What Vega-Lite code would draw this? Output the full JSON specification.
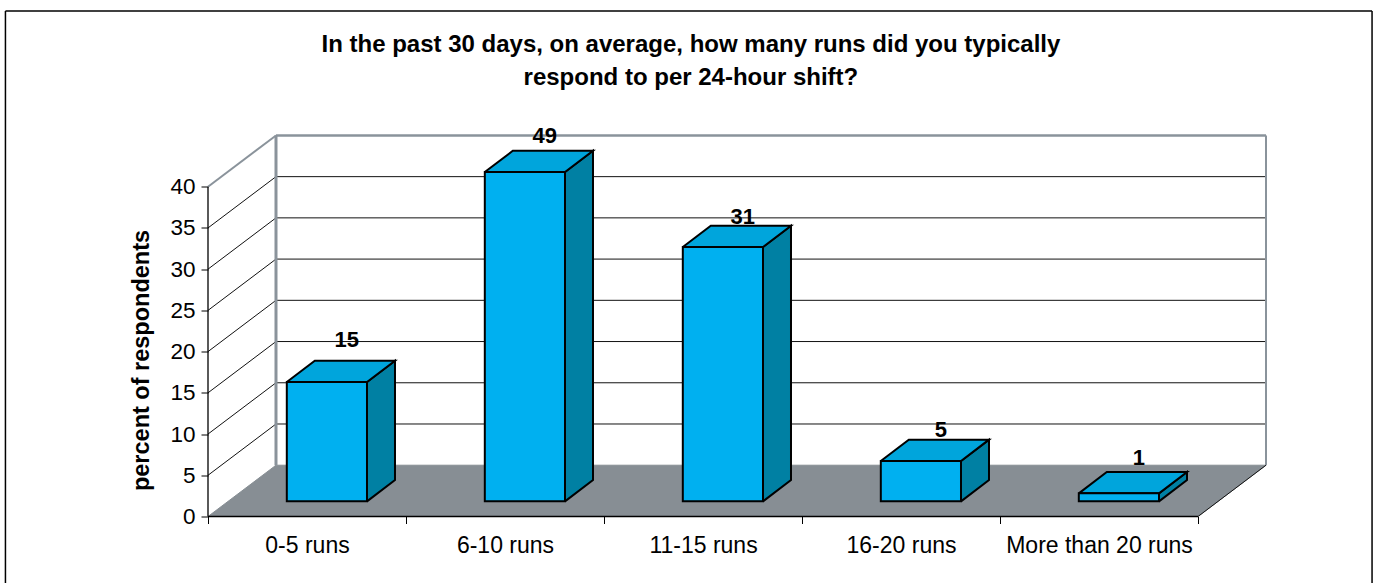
{
"$schema":"https://vega.github.io/schema/vega-lite/v6.json",
"width":1058,"height":381,
"autosize":{"type":"none"},
"padding":{"left":208,"top":135.5,"right":109,"bottom":66.5},
"background":"white",
"config":{"view":{"stroke":null},"font":"Liberation Sans"},
"resolve":{"axis":{"x":"independent","y":"independent"}},
"data":{"values":[
{"i":0,"run":"0-5 runs","percent":15,"drawn":14.47},
{"i":1,"run":"6-10 runs","percent":49,"drawn":39.94},
{"i":2,"run":"11-15 runs","percent":31,"drawn":30.85},
{"i":3,"run":"16-20 runs","percent":5,"drawn":4.9},
{"i":4,"run":"More than 20 runs","percent":1,"drawn":0.97}
]},
"transform":[
{"calculate":"datum.i+0.398","as":"x0"},
{"calculate":"datum.x0+0.405","as":"x1"},
{"calculate":"1.84+datum.drawn","as":"t"}
],
"layer":[
{"data":{"values":[{"v":5},{"v":10},{"v":15},{"v":20},{"v":25},{"v":30},{"v":35}]},
"transform":[{"calculate":"datum.v+6.22","as":"b"}],
"mark":{"type":"rule","stroke":"#111","strokeWidth":1},
"encoding":{
"x":{"datum":0.3434,"type":"quantitative","scale":{"domain":[0,5.3434],"nice":false,"zero":false},
"axis":{"values":[0,0.5,1,1.5,2,2.5,3,3.5,4,4.5,5],"grid":false,"domain":false,"title":null,"tickSize":7,"tickColor":"black","tickOpacity":{"expr":"datum.value%1==0?1:0"},"labelPadding":11,"labelFontSize":23,"labelColor":"black","labelFont":"Liberation Sans","labelLimit":400,"labelOverlap":false,"labelBound":false,"labelFlush":false,"labelExpr":"datum.value%1==0?'':['0-5 runs','6-10 runs','11-15 runs','16-20 runs','More than 20 runs'][floor(datum.value)]"}},
"x2":{"datum":5.3434},
"y":{"field":"b","type":"quantitative","scale":{"domain":[0,46.21],"nice":false,"zero":false},
"axis":{"values":[0,5,10,15,20,25,30,35,40],"grid":false,"domain":false,"tickSize":7,"tickColor":"black","labelPadding":6,"labelFontSize":22.5,"labelColor":"black","labelFont":"Liberation Sans","labelOverlap":false,"title":"percent of respondents","titleFont":"Liberation Sans","titleFontSize":23.5,"titleFontWeight":"bold","titleColor":"black","titleLimit":500,"titleX":-67,"titleY":224.5,"titleAngle":270,"titleBaseline":"middle","titleAlign":"center"}}
}},
{"data":{"values":[{"v":5},{"v":10},{"v":15},{"v":20},{"v":25},{"v":30},{"v":35}]},
"transform":[{"calculate":"datum.v+6.22","as":"b"}],
"mark":{"type":"rule","stroke":"#111","strokeWidth":1},
"encoding":{"x":{"datum":0,"type":"quantitative","axis":null},"x2":{"datum":0.3434},"y":{"field":"v","type":"quantitative","axis":null},"y2":{"field":"b"}}},
{"data":{"values":[{"c":0},{"c":1},{"c":2},{"c":3},{"c":4}]},
"transform":[{"calculate":"[0,5,5.3434,0.3434,0][datum.c]","as":"px"},{"calculate":"[0,0,6.22,6.22,0][datum.c]","as":"py"}],
"mark":{"type":"line","fill":"#878e94","stroke":"#878e94","strokeWidth":1},
"encoding":{"x":{"field":"px","type":"quantitative","axis":null},"y":{"field":"py","type":"quantitative","axis":null},"order":{"field":"c"}}},
{"data":{"values":[{}]},"mark":{"type":"rule","stroke":"#8a939b","strokeWidth":3},
"encoding":{"x":{"datum":0.3434,"type":"quantitative","axis":null},"y":{"datum":6.22,"type":"quantitative","axis":null},"y2":{"datum":46.21}}},
{"data":{"values":[{}]},"mark":{"type":"rule","stroke":"#8a939b","strokeWidth":2.5},
"encoding":{"x":{"datum":0.3434,"type":"quantitative","axis":null},"x2":{"datum":5.3434},"y":{"datum":46.21,"type":"quantitative","axis":null}}},
{"data":{"values":[{}]},"mark":{"type":"rule","stroke":"#8a939b","strokeWidth":2},
"encoding":{"x":{"datum":5.3434,"type":"quantitative","axis":null},"y":{"datum":6.22,"type":"quantitative","axis":null},"y2":{"datum":46.21}}},
{"data":{"values":[{}]},"mark":{"type":"rule","stroke":"#8a939b","strokeWidth":2},
"encoding":{"x":{"datum":0,"type":"quantitative","axis":null},"x2":{"datum":0.3434},"y":{"datum":40,"type":"quantitative","axis":null},"y2":{"datum":46.21}}},
{"data":{"values":[{}]},"mark":{"type":"rule","stroke":"#111","strokeWidth":1},
"encoding":{"x":{"datum":5,"type":"quantitative","axis":null},"x2":{"datum":5.3434},"y":{"datum":0,"type":"quantitative","axis":null},"y2":{"datum":6.22}}},
{"data":{"values":[{}]},"mark":{"type":"rule","stroke":"black","strokeWidth":1.3},
"encoding":{"x":{"datum":0,"type":"quantitative","axis":null},"x2":{"datum":5},"y":{"datum":0,"type":"quantitative","axis":null}}},
{"data":{"values":[{}]},"mark":{"type":"rule","stroke":"black","strokeWidth":1.3},
"encoding":{"x":{"datum":0,"type":"quantitative","axis":null},"y":{"datum":0,"type":"quantitative","axis":null},"y2":{"datum":40}}},
{"data":{"values":[{}]},"mark":{"type":"rule","stroke":"black","strokeWidth":1.5},
"encoding":{"x":{"datum":-1.023,"type":"quantitative","axis":null},"y":{"datum":-9,"type":"quantitative","axis":null},"y2":{"datum":61.3}}},
{"data":{"values":[{}]},"mark":{"type":"rule","stroke":"black","strokeWidth":1.5},
"encoding":{"x":{"datum":5.879,"type":"quantitative","axis":null},"y":{"datum":-9,"type":"quantitative","axis":null},"y2":{"datum":61.3}}},
{"data":{"values":[{}]},"mark":{"type":"rule","stroke":"black","strokeWidth":1.5},
"encoding":{"x":{"datum":-1.023,"type":"quantitative","axis":null},"x2":{"datum":5.879},"y":{"datum":61.3,"type":"quantitative","axis":null}}},
{"data":{"values":[{"line":"In the past 30 days, on average, how many runs did you typically","lx":2.439,"ly":56.35},{"line":"respond to per 24-hour shift?","lx":2.439,"ly":52.35}]},
"mark":{"type":"text","font":"Liberation Sans","fontSize":24,"fontWeight":"bold","baseline":"alphabetic","align":"center","color":"black"},
"encoding":{"x":{"field":"lx","type":"quantitative","axis":null},"y":{"field":"ly","type":"quantitative","axis":null},"text":{"field":"line"}}},
{"transform":[{"calculate":"[0,1,2,3,4]","as":"c"},{"flatten":["c"]},
{"calculate":"[datum.x1,datum.x1+0.1414,datum.x1+0.1414,datum.x1,datum.x1][datum.c]","as":"px"},
{"calculate":"[1.84,4.42,datum.t+2.58,datum.t,1.84][datum.c]","as":"py"}],
"mark":{"type":"line","fill":"#0080a3","stroke":"black","strokeWidth":2,"strokeJoin":"miter"},
"encoding":{"x":{"field":"px","type":"quantitative","axis":null},"y":{"field":"py","type":"quantitative","axis":null},"detail":{"field":"i"},"order":{"field":"c"}}},
{"transform":[{"calculate":"[0,1,2,3,4]","as":"c"},{"flatten":["c"]},
{"calculate":"[datum.x0,datum.x1,datum.x1+0.1414,datum.x0+0.1414,datum.x0][datum.c]","as":"px"},
{"calculate":"[datum.t,datum.t,datum.t+2.58,datum.t+2.58,datum.t][datum.c]","as":"py"}],
"mark":{"type":"line","fill":"#00a5dc","stroke":"black","strokeWidth":2,"strokeJoin":"miter"},
"encoding":{"x":{"field":"px","type":"quantitative","axis":null},"y":{"field":"py","type":"quantitative","axis":null},"detail":{"field":"i"},"order":{"field":"c"}}},
{"transform":[{"calculate":"1.84","as":"base"}],
"mark":{"type":"rect","fill":"#00b0f0","stroke":"black","strokeWidth":2},
"encoding":{"x":{"field":"x0","type":"quantitative","axis":null},"x2":{"field":"x1"},"y":{"field":"base","type":"quantitative","axis":null},"y2":{"field":"t"}}},
{"transform":[{"calculate":"datum.x0+0.303","as":"lx"},{"calculate":"datum.t+2.83+[1.4,0.7,0,0.1,0.6][datum.i]","as":"ly"}],
"mark":{"type":"text","font":"Liberation Sans","fontSize":22,"fontWeight":"bold","baseline":"alphabetic","align":"center","color":"black"},
"encoding":{"x":{"field":"lx","type":"quantitative","axis":null},"y":{"field":"ly","type":"quantitative","axis":null},"text":{"field":"percent","type":"quantitative"}}}
]
}
